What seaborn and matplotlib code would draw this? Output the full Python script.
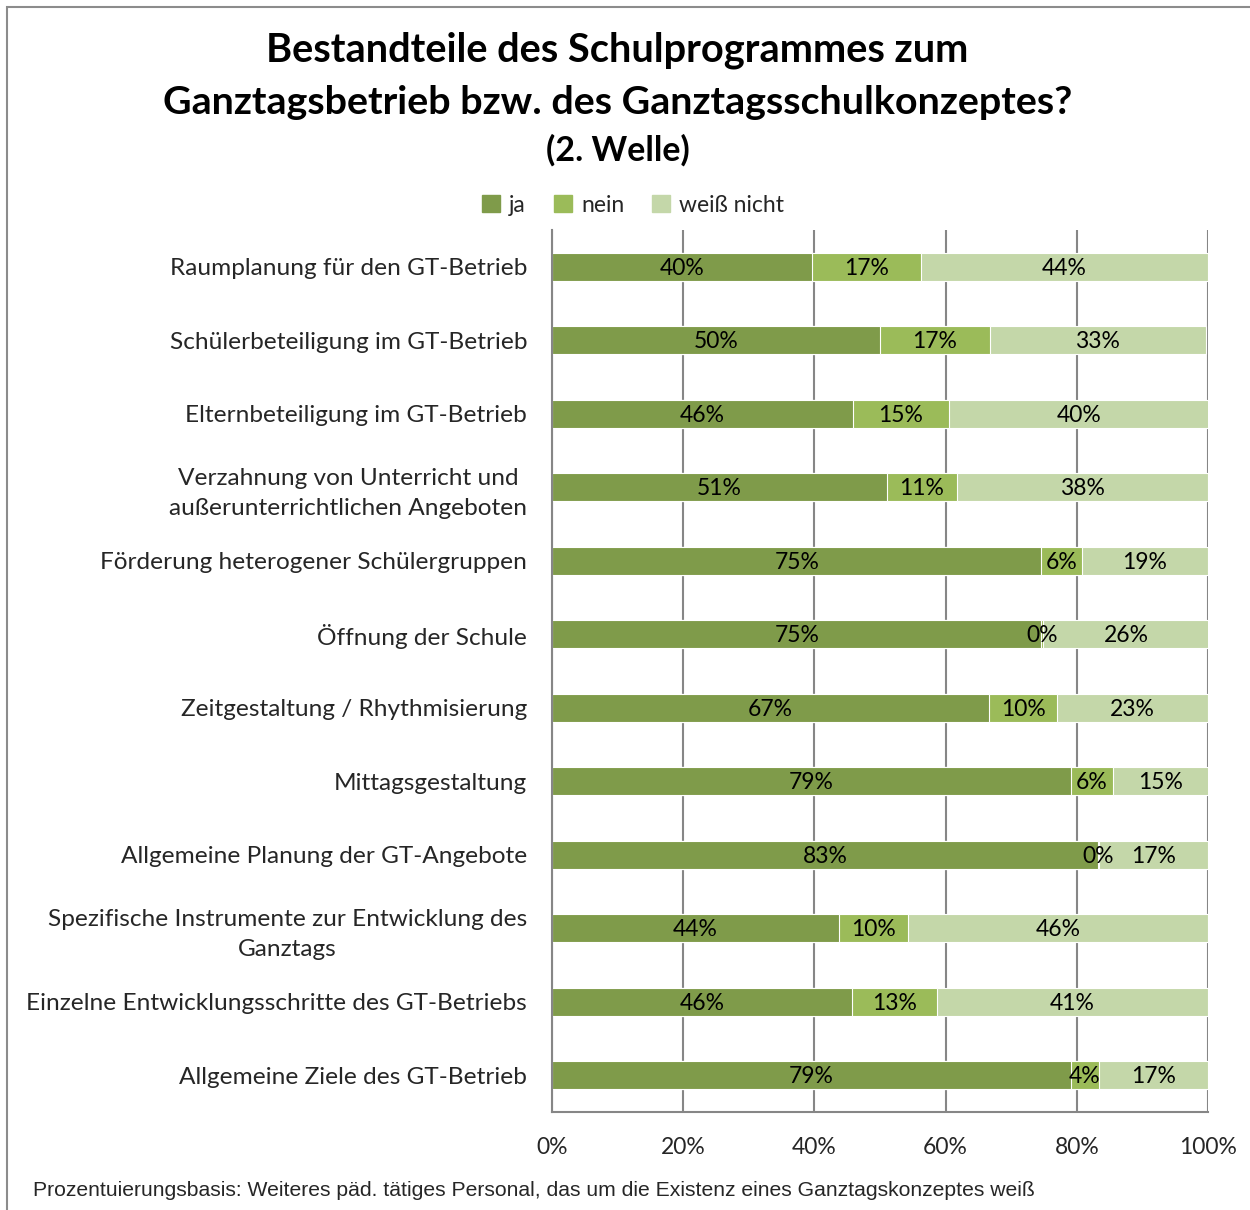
import numpy as np
import pandas as pd
import matplotlib.pyplot as plt
import matplotlib.patches as mpatches
from matplotlib.ticker import FuncFormatter
import seaborn as sns

# data (percent)
categories = [
    'Raumplanung für den GT-Betrieb',
    'Schülerbeteiligung im GT-Betrieb',
    'Elternbeteiligung im GT-Betrieb',
    'Verzahnung von Unterricht und\naußerunterrichtlichen Angeboten',
    'Förderung heterogener Schülergruppen',
    'Öffnung der Schule',
    'Zeitgestaltung / Rhythmisierung',
    'Mittagsgestaltung',
    'Allgemeine Planung der GT-Angebote',
    'Spezifische Instrumente zur Entwicklung des\nGanztags',
    'Einzelne Entwicklungsschritte des GT-Betriebs',
    'Allgemeine Ziele des GT-Betrieb',
]
ja = [39.6, 50.0, 45.9, 51.1, 74.6, 74.6, 66.6, 79.1, 83.2, 43.8, 45.7, 79.1]
nein = [16.7, 16.7, 14.6, 10.6, 6.2, 0.2, 10.4, 6.4, 0.2, 10.4, 13.0, 4.3]
weiss_nicht = [43.7, 33.0, 39.6, 38.3, 19.2, 25.6, 23.0, 14.6, 16.6, 45.8, 41.3, 16.6]

series = ['ja', 'nein', 'weiß nicht']
colors = ['#7F9B4A', '#9BBB59', '#C4D7A9']
grey = '#868686'

sns.set_style('white')
plt.rcParams['font.family'] = ['Lato', 'DejaVu Sans']

df = pd.DataFrame({'Bestandteil': categories, 'ja': ja, 'nein': nein,
                   'weiß nicht': weiss_nicht})
df['cum_ja'] = df['ja']
df['cum_nein'] = df['cum_ja'] + df['nein']
df['cum_weiss'] = df['cum_nein'] + df['weiß nicht']

fig = plt.figure(figsize=(12.5, 12.1), dpi=100)
ax = fig.add_axes([552 / 1250, 1 - 1112 / 1210, 656 / 1250, 882 / 1210])

# stacked bars: draw cumulative totals from the back to the front
for col, color in zip(['cum_weiss', 'cum_nein', 'cum_ja'], colors[::-1]):
    sns.barplot(data=df, x=col, y='Bestandteil', color=color, width=0.38,
                saturation=1, edgecolor='white', linewidth=0.8, ax=ax)

# value labels in the middle of each segment
for i, row in df.iterrows():
    start = 0
    for s in series:
        v = row[s]
        ax.text(start + v / 2, i + 0.02, f'{v:.0f}%', ha='center', va='center',
                fontsize=16.5, color='black')
        start += v

ax.set_xlim(0, 100)
ax.set_xticks(np.arange(0, 101, 20))
ax.xaxis.set_major_formatter(FuncFormatter(lambda x, pos: f'{x:.0f}%'))
ax.set_axisbelow(True)
ax.xaxis.grid(True, color=grey, lw=1.5)
ax.set(xlabel='', ylabel='')

for side in ['top', 'right']:
    ax.spines[side].set_visible(False)
for side in ['left', 'bottom']:
    ax.spines[side].set_color(grey)
    ax.spines[side].set_linewidth(1.5)

ax.tick_params(axis='x', length=8, width=1.5, color=grey, pad=10, labelsize=16.5)
ax.tick_params(axis='y', which='major', length=0, pad=18, labelsize=17.6)
ax.set_yticks(np.arange(-0.5, len(categories), 1), minor=True)
ax.tick_params(axis='y', which='minor', length=6, width=1.5, color=grey)
for lab in ax.get_yticklabels():
    lab.set_multialignment('center')
    lab.set_linespacing(1.5)

# titles
fig.text(0.494, 1 - 50 / 1210, 'Bestandteile des Schulprogrammes zum',
         ha='center', va='center', fontsize=28.6, fontweight='bold', color='black')
fig.text(0.494, 1 - 102 / 1210, 'Ganztagsbetrieb bzw. des Ganztagsschulkonzeptes?',
         ha='center', va='center', fontsize=28.4, fontweight='bold', color='black')
fig.text(0.494, 1 - 150 / 1210, '(2. Welle)',
         ha='center', va='center', fontsize=24.5, fontweight='bold', color='black')

# legend
handles = [mpatches.Patch(color=c, label=s) for c, s in zip(colors, series)]
fig.legend(handles=handles, loc='center', bbox_to_anchor=(633 / 1250, 1 - 205 / 1210),
           ncol=3, frameon=False, fontsize=16.5, handlelength=0.8, handleheight=0.8,
           handletextpad=0.4, columnspacing=1.2)

# footnote
fig.text(33 / 1250, 1 - 1190 / 1210,
         'Prozentuierungsbasis: Weiteres päd. tätiges Personal, das um die Existenz eines Ganztagskonzeptes weiß',
         ha='left', va='center', fontsize=15.2, family='Liberation Sans')

# outer frame
fig.add_artist(mpatches.Rectangle((7 / 1250, -0.05), 1.2, 1 - 7 / 1210 + 0.05,
                                  transform=fig.transFigure, fill=False,
                                  edgecolor='#8C8C8C', lw=1.5, clip_on=False))

fig.savefig('out.png', dpi=100)
